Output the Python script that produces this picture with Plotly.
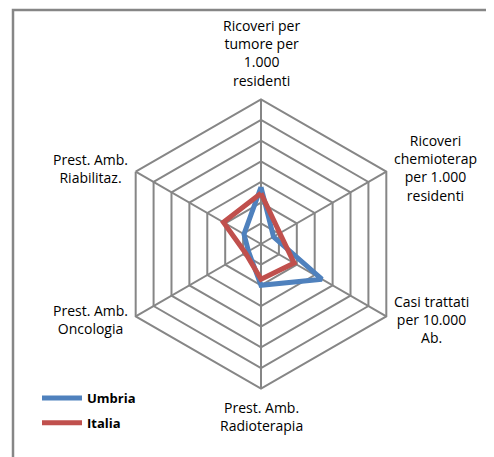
import math
import plotly.graph_objects as go

categories = [
    "Ricoveri per<br>tumore per<br>1.000<br>residenti",
    "Ricoveri<br>chemioterap<br>per 1.000<br>residenti",
    "Casi trattati<br>per 10.000<br>Ab.",
    "Prest. Amb.<br>Radioterapia",
    "Prest. Amb.<br>Oncologia",
    "Prest. Amb.<br>Riabilitaz.",
]
umbria = [2.75, 0.7, 3.4, 2.0, 0.7, 0.95]
italia = [2.45, 1.05, 1.85, 1.7, 0.87, 2.1]
radial_range = [0, 7]

W, H = 494, 457
OFF = 8  # page body margin offset
cx, cy, R = 261 - OFF, 244 - OFF, 144.7

fig = go.Figure()
fig.add_trace(go.Scatterpolar(
    r=umbria + [umbria[0]], theta=categories + [categories[0]],
    mode="lines", name="Umbria", legendgroup="u",
    line=dict(color="#4F81BD", width=5),
))
fig.add_trace(go.Scatterpolar(
    r=italia + [italia[0]], theta=categories + [categories[0]],
    mode="lines", name="Italia", legendgroup="i",
    line=dict(color="#C0504D", width=5),
))

# category labels placed just outside each polygon vertex
annotations = []
n = len(categories)
for i, cat in enumerate(categories):
    ang = 2 * math.pi * i / n
    sx, sy = math.sin(ang), math.cos(ang)
    px = cx + (R + 6) * sx
    py = cy - (R + 7) * sy
    if sx > 0.1:
        xa, ya = "left", "middle"
    elif sx < -0.1:
        xa, ya = "right", "middle"
    else:
        xa, ya = "center", ("bottom" if sy > 0 else "top")
    annotations.append(dict(
        text=cat, x=px / W, y=1 - py / H, xref="paper", yref="paper",
        xanchor=xa, yanchor=ya, align="center", showarrow=False,
        font=dict(family="Open Sans", size=14, color="#000000"),
    ))

grid = "#868686"
fig.update_layout(
    width=W, height=H,
    margin=dict(l=0, r=0, t=0, b=0),
    paper_bgcolor="white",
    font=dict(family="Open Sans", size=14, color="#000000"),
    polar=dict(
        domain=dict(x=[(cx - R) / W, (cx + R) / W], y=[(H - cy - R) / H, (H - cy + R) / H]),
        gridshape="linear",
        bgcolor="white",
        radialaxis=dict(range=radial_range, dtick=1, showticklabels=False, ticks="",
                        showline=False, gridcolor=grid, gridwidth=2),
        angularaxis=dict(rotation=90, direction="clockwise", gridcolor=grid, gridwidth=2,
                         linecolor=grid, linewidth=2, ticks="", showticklabels=False),
    ),
    legend=dict(x=29 / W, y=1 - 375 / H, xanchor="left", yanchor="top",
                font=dict(family="Open Sans", size=13, weight="bold"),
                tracegroupgap=5, itemwidth=40, bgcolor="rgba(0,0,0,0)"),
    annotations=annotations,
    shapes=[dict(type="rect", xref="paper", yref="paper",
                 x0=(13 - OFF) / W, x1=1.05, y0=-0.05, y1=1 - (10 - OFF) / H,
                 line=dict(color="#868686", width=2.5))],
)
fig.write_html("out.html")
